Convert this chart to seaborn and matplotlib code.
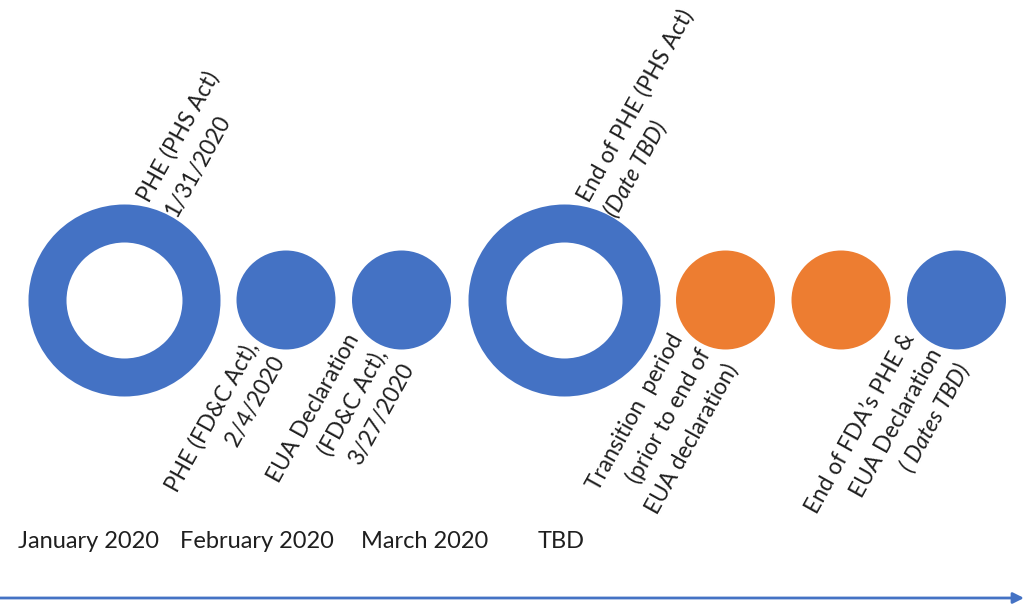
import numpy as np
import pandas as pd
import matplotlib.pyplot as plt
import seaborn as sns

# Timeline data
event_lines = [
    ["PHE (PHS Act)", "1/31/2020"],
    ["PHE (FD&C Act),", "2/4/2020"],
    ["EUA Declaration", "(FD&C Act),", "3/27/2020"],
    ["End of PHE (PHS Act)", "(Date TBD)"],
    ["Transition  period", "(prior to end of", "EUA declaration)"],
    [],
    ["End of FDA\u2019s PHE &", "EUA Declaration", "( Dates TBD)"],
]
event_kind = ["ring", "dot", "dot", "ring", "dot", "dot", "dot"]
event_phase = ["PHE", "PHE", "PHE", "PHE", "Transition", "Transition", "PHE"]
label_side = ["above", "below", "below", "above", "below", None, "below"]
italic_lines = ["(Date TBD)", "( Dates TBD)"]
month_labels = ["January 2020", "February 2020", "March 2020", "TBD"]

# Styling / layout
blue = "#4472C4"
orange = "#ED7D31"
text_color = "#1f1f1f"
month_x = [88, 257, 425, 561]
radius = {"ring": 96, "dot": 49.5}
gap = 16.5
px2pt = 0.72  # figure at 100 dpi

sns.set_theme(style="white")
plt.rcParams["font.family"] = ["Lato", "DejaVu Sans"]

# Centres of the circles, packed left to right
xs = []
edge = 28
for k in event_kind:
    xs.append(edge + radius[k])
    edge += 2 * radius[k] + gap

df = pd.DataFrame({"x": xs, "y": 300, "kind": event_kind, "phase": event_phase})

fig = plt.figure(figsize=(10.26, 6.06), dpi=100)
ax = fig.add_axes([0, 0, 1, 1])

dots = df[df["kind"] == "dot"]
sns.scatterplot(data=dots, x="x", y="y", hue="phase",
                palette={"PHE": blue, "Transition": orange},
                s=(2 * radius["dot"] * px2pt) ** 2, linewidth=0,
                legend=False, clip_on=False, ax=ax)

rings = df[df["kind"] == "ring"]
ring_w = 38
sns.scatterplot(data=rings, x="x", y="y",
                s=((2 * radius["ring"] - ring_w) * px2pt) ** 2,
                facecolor="white", edgecolor=blue, linewidth=ring_w * px2pt,
                legend=False, clip_on=False, ax=ax)

# Rotated event labels, one text per line
angle = 61
th = np.deg2rad(angle)
perp = np.array([np.sin(th), np.cos(th)])
line_gap = 31
for cx, side, lines in zip(xs, label_side, event_lines):
    if side is None:
        continue
    n = len(lines)
    if side == "above":
        center = np.array([cx + 33, 208])
        ha = "left"
    else:
        center = np.array([cx - 20, 350])
        ha = "right"
    for i, line in enumerate(lines):
        p = center + (i - (n - 1) / 2) * line_gap * perp
        ax.text(p[0], p[1], line, rotation=angle, rotation_mode="anchor",
                ha=ha, va="center", fontsize=16.3, color=text_color,
                style="italic" if line in italic_lines else "normal")

# Month labels
for mx, m in zip(month_x, month_labels):
    ax.text(mx, 541, m, ha="center", va="center", fontsize=17, color=text_color)

# Arrow along the bottom
ax.annotate("", xy=(1024, 598), xytext=(0, 598),
            arrowprops=dict(arrowstyle="-|>", color=blue, lw=2,
                            mutation_scale=16, shrinkA=0, shrinkB=0))

ax.set_xlim(0, 1026)
ax.set_ylim(606, 0)
ax.axis("off")

fig.savefig("out.png", dpi=100, facecolor="white")
